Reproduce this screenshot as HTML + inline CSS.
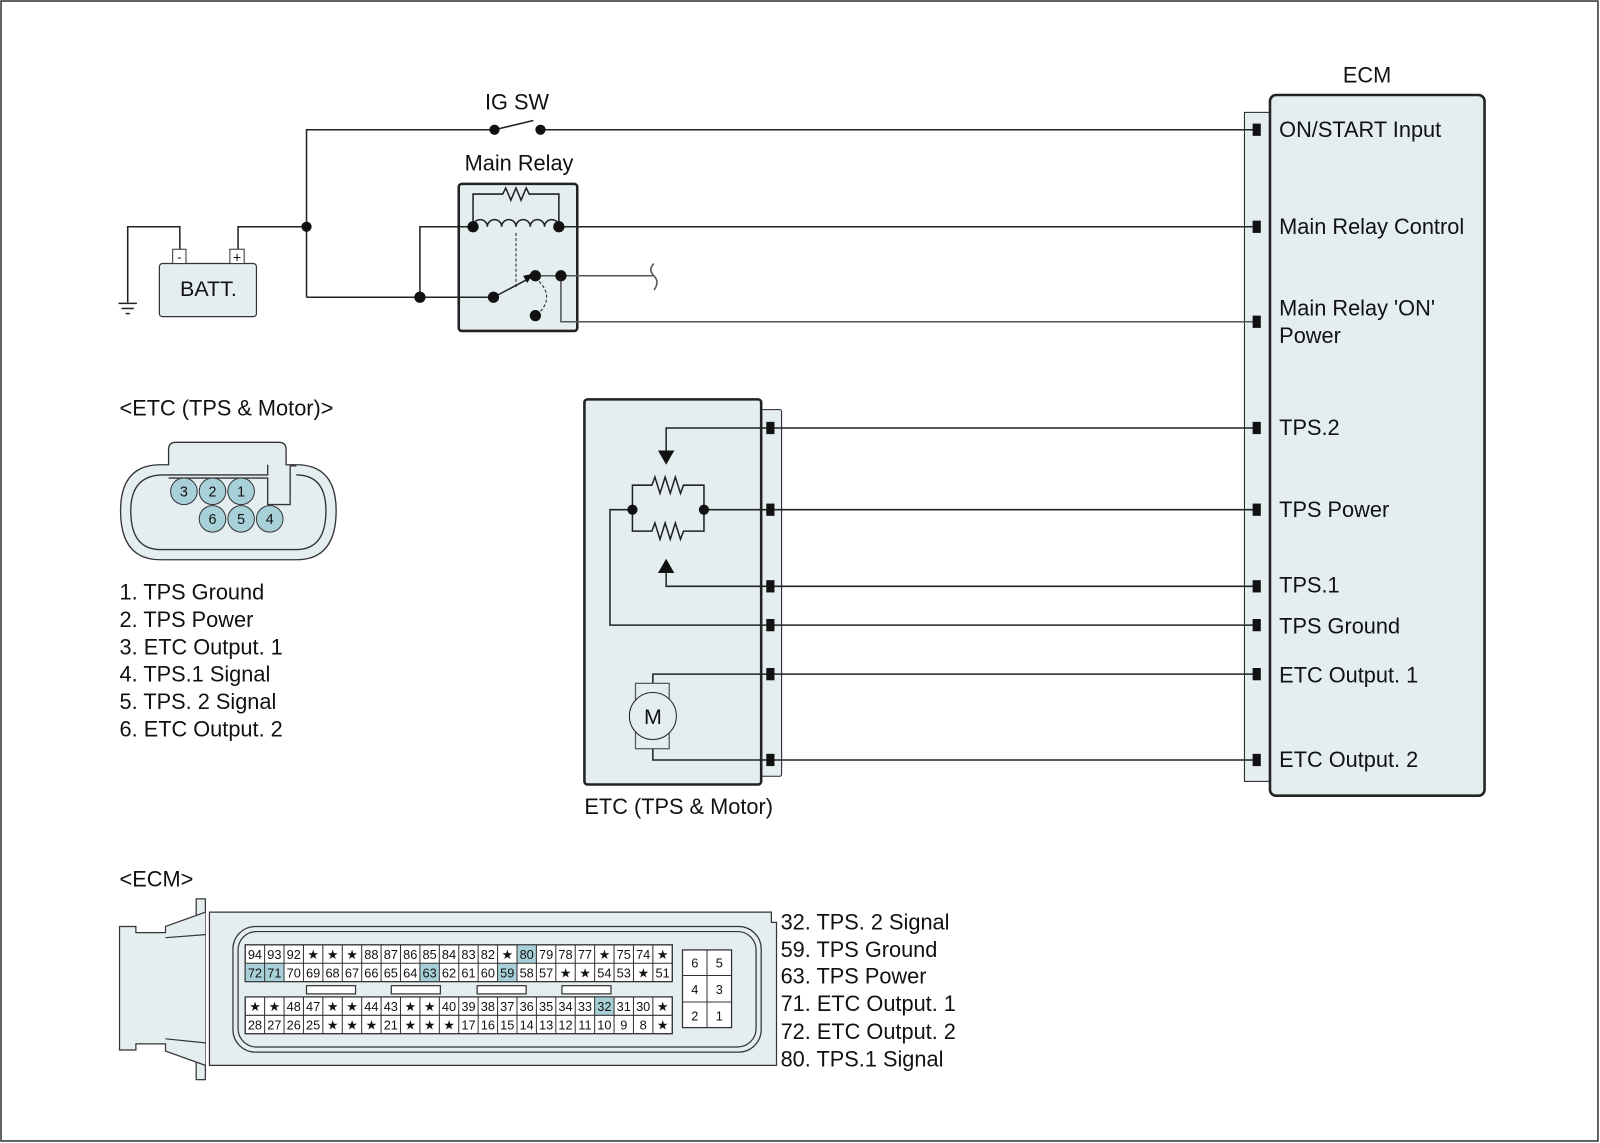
<!DOCTYPE html>
<html><head><meta charset="utf-8"><style>
html,body{margin:0;padding:0;background:#fff}
svg{display:block}
text{font-family:"Liberation Sans",sans-serif;fill:#111}
</style></head><body>
<svg width="1600" height="1143" viewBox="0 0 1566 1119" preserveAspectRatio="none" xmlns="http://www.w3.org/2000/svg">
<rect x="1" y="1" width="1563" height="1116" fill="#fff" stroke="#333" stroke-width="1.5"/>
<g stroke="#222" stroke-width="1.5" fill="none">
<rect x="1218" y="110" width="25" height="655" fill="#e4eef0" stroke-width="1"/>
<rect x="1243" y="93" width="210" height="686" rx="6" fill="#e4eef0" stroke-width="2.5"/>
<polyline points="300,291 300,127 484,127"/>
<line x1="484" y1="127" x2="522" y2="118"/>
<line x1="529" y1="127" x2="1227" y2="127"/>
<polyline points="233,244 233,222 300,222"/>
<polyline points="176,244 176,222 125,222 125,296"/>
<line x1="116" y1="297" x2="134" y2="297"/><line x1="119" y1="302" x2="131" y2="302"/><line x1="123" y1="307" x2="127" y2="307"/>
<rect x="449" y="180" width="116" height="144" rx="3" fill="#e4eef0" stroke-width="2.5"/>
<polyline points="300,291 483,291"/>
<polyline points="411,291 411,222 463,222"/>
<polyline points="463,222 463,190 492,190 495,184 500,196 505,184 510,196 515,184 518,190 547,190 547,222"/>
<path d="M463,222 a7,7 0 0 1 14,0 a7,7 0 0 1 14,0 a7,7 0 0 1 14,0 a7,7 0 0 1 14,0 a7,7 0 0 1 14,0 a7,7 0 0 1 14,0"/>
<line x1="547" y1="222" x2="1227" y2="222"/>
<line x1="505" y1="228" x2="505" y2="282" stroke-dasharray="3,2" stroke-width="1"/>
<line x1="483" y1="291" x2="519" y2="272"/>
<path d="M524,272 Q545,290 526,308" stroke-dasharray="3,2" stroke-width="1"/>
<line x1="524" y1="270" x2="640" y2="270" stroke="#555"/>
<path d="M640,258 q-6,6 0,12 q6,6 0,14" stroke="#555"/>
<polyline points="549,270 549,315 1227,315" stroke="#555"/>
<rect x="745" y="401" width="20" height="359" rx="2" fill="#e4eef0" stroke-width="1"/>
<rect x="572" y="391" width="173" height="377" rx="3" fill="#e4eef0" stroke-width="2.5"/>
<polyline points="1227,419 652,419 652,445"/>
<line x1="751" y1="499" x2="1227" y2="499"/>
<line x1="751" y1="574" x2="1227" y2="574"/>
<line x1="751" y1="612" x2="1227" y2="612"/>
<line x1="751" y1="660" x2="1227" y2="660"/>
<line x1="751" y1="744" x2="1227" y2="744"/>
<polyline points="619,499 619,475 638,475 641,467 646,483 651,467 656,483 661,467 666,483 669,475 689,475 689,499"/>
<polyline points="619,499 619,520 638,520 641,512 646,528 651,512 656,528 661,512 666,528 669,520 689,520 689,499"/>
<line x1="689" y1="499" x2="751" y2="499"/>
<polyline points="619,499 597,499 597,612 751,612"/>
<polyline points="751,574 652,574 652,558"/>
<polyline points="751,660 639,660 639,669"/>
<rect x="622" y="669" width="33" height="64" stroke="#555" stroke-width="1.2"/>
<circle cx="639" cy="701" r="23" fill="#e4eef0" stroke-width="1"/>
<polyline points="639,733 639,744 751,744"/>
</g>
<polygon points="644,441 660,441 652,455" fill="#111"/>
<polygon points="644,561 660,561 652,547" fill="#111"/>
<text x="639" y="709" font-size="21" text-anchor="middle">M</text>
<g fill="#111">
<circle cx="300" cy="222" r="5"/><circle cx="484" cy="127" r="5"/><circle cx="529" cy="127" r="5"/>
<circle cx="411" cy="291" r="5.5"/><circle cx="463" cy="222" r="5.5"/><circle cx="547" cy="222" r="5.5"/>
<circle cx="483" cy="291" r="5.5"/><circle cx="524" cy="270" r="5.5"/><circle cx="549" cy="270" r="5.5"/><circle cx="524" cy="309" r="5.5"/>
<polygon points="522,268 512,270 516,277"/>
<circle cx="619" cy="499" r="5"/><circle cx="689" cy="499" r="5"/>
<rect x="1226" y="121" width="8" height="12"/><rect x="1226" y="216" width="8" height="12"/><rect x="1226" y="309" width="8" height="12"/>
<rect x="1226" y="413" width="8" height="12"/><rect x="1226" y="493" width="8" height="12"/><rect x="1226" y="568" width="8" height="12"/>
<rect x="1226" y="606" width="8" height="12"/><rect x="1226" y="654" width="8" height="12"/><rect x="1226" y="738" width="8" height="12"/>
<rect x="750" y="413" width="8" height="12"/><rect x="750" y="493" width="8" height="12"/><rect x="750" y="568" width="8" height="12"/>
<rect x="750" y="606" width="8" height="12"/><rect x="750" y="654" width="8" height="12"/><rect x="750" y="738" width="8" height="12"/>
</g>
<rect x="156" y="258" width="95" height="52" rx="3" fill="#e4eef0" stroke="#333" stroke-width="1.2"/>
<rect x="169" y="244" width="13" height="14" fill="#fff" stroke="#333"/>
<rect x="225" y="244" width="14" height="14" fill="#fff" stroke="#333"/>
<text x="175.5" y="256" font-size="13" text-anchor="middle">-</text>
<text x="232" y="257" font-size="14" text-anchor="middle">+</text>
<text x="204" y="290" font-size="21" text-anchor="middle">BATT.</text>
<g font-size="21.3">
<text x="506" y="107" text-anchor="middle">IG SW</text>
<text x="508" y="167" text-anchor="middle">Main Relay</text>
<text x="1338" y="81" text-anchor="middle">ECM</text>
<text x="1252" y="134">ON/START Input</text>
<text x="1252" y="229">Main Relay Control</text>
<text x="1252" y="309">Main Relay 'ON'</text>
<text x="1252" y="336">Power</text>
<text x="1252" y="426">TPS.2</text>
<text x="1252" y="506">TPS Power</text>
<text x="1252" y="580">TPS.1</text>
<text x="1252" y="620">TPS Ground</text>
<text x="1252" y="668">ETC Output. 1</text>
<text x="1252" y="751">ETC Output. 2</text>
<text x="572" y="797">ETC (TPS &amp; Motor)</text>
<text x="117" y="407">&lt;ETC (TPS &amp; Motor)&gt;</text>
<text x="117" y="587">1. TPS Ground</text>
<text x="117" y="614">2. TPS Power</text>
<text x="117" y="641">3. ETC Output. 1</text>
<text x="117" y="667">4. TPS.1 Signal</text>
<text x="117" y="694">5. TPS. 2 Signal</text>
<text x="117" y="721">6. ETC Output. 2</text>
<text x="117" y="868">&lt;ECM&gt;</text>
<text x="764" y="910">32. TPS. 2 Signal</text>
<text x="764" y="937">59. TPS Ground</text>
<text x="764" y="963">63. TPS Power</text>
<text x="764" y="990">71. ETC Output. 1</text>
<text x="764" y="1017">72. ETC Output. 2</text>
<text x="764" y="1044">80. TPS.1 Signal</text>
</g>
<g stroke="#333" stroke-width="1.3" fill="#e4eef0">
<path d="M165,455 L165,440 Q165,433 172,433 L273,433 Q280,433 280,440 L280,455 L290,455 Q329,455 329,500 Q329,548 290,548 L157,548 Q118,548 118,500 Q118,455 157,455 Z"/>
<path d="M128,500 Q128,465 160,465 L262,465 L262,455 M290,465 Q319,465 319,500 Q319,538 290,538 L157,538 Q128,538 128,500" fill="none"/>
<path d="M165,468 L262,468 L262,494 L284,494 L284,456 L290,456" fill="none"/>
</g>
<g fill="#a8d0d8" stroke="#333" stroke-width="1">
<circle cx="180" cy="481" r="13"/><circle cx="208" cy="481" r="13"/><circle cx="236" cy="481" r="13"/>
<circle cx="208" cy="508" r="13"/><circle cx="236" cy="508" r="13"/><circle cx="264" cy="508" r="13"/>
</g>
<g font-size="14" text-anchor="middle">
<text x="180" y="486">3</text><text x="208" y="486">2</text><text x="236" y="486">1</text>
<text x="208" y="513">6</text><text x="236" y="513">5</text><text x="264" y="513">4</text>
</g>
<g stroke="#333" stroke-width="1.2" fill="#e4eef0">
<rect x="192" y="880" width="9" height="177"/>
<path d="M201,893 L162,907 L162,913 L133,913 L133,907 L117,907 L117,1028 L133,1028 L133,1022 L162,1022 L162,1029 L201,1043"/>
<path d="M162,918 L201,915 M162,1017 L201,1021" fill="none"/>
<path d="M205,893 L755,893 L755,903 L760,903 L760,1043 L205,1043 Z"/>
<rect x="228" y="907" width="517" height="123" rx="22" fill="none"/>
<rect x="233" y="912" width="507" height="113" rx="18" fill="none"/>
<rect x="240" y="925" width="418" height="36" fill="#fff"/>
<rect x="240" y="976" width="418" height="36" fill="#fff"/>
<rect x="668" y="930" width="48" height="76" fill="#fff"/>
<rect x="300" y="965" width="48" height="8" fill="#fff"/><rect x="383" y="965" width="48" height="8" fill="#fff"/>
<rect x="467" y="965" width="48" height="8" fill="#fff"/><rect x="550" y="965" width="48" height="8" fill="#fff"/>
</g>
<g fill="#a8d0d8">
<rect x="506" y="925" width="19" height="18"/>
<rect x="240" y="943" width="38" height="18"/>
<rect x="411" y="943" width="19" height="18"/>
<rect x="487" y="943" width="19" height="18"/>
<rect x="582" y="976" width="19" height="18"/>
</g>
<g stroke="#333" stroke-width="1" fill="none">
<path d="M240,943 H658 M240,994 H658 M692,930 V1006 M668,955 H716 M668,981 H716"/>
<path d="M259,925V961 M278,925V961 M297,925V961 M316,925V961 M335,925V961 M354,925V961 M373,925V961 M392,925V961 M411,925V961 M430,925V961 M449,925V961 M468,925V961 M487,925V961 M506,925V961 M525,925V961 M544,925V961 M563,925V961 M582,925V961 M601,925V961 M620,925V961 M639,925V961"/>
<path d="M259,976V1012 M278,976V1012 M297,976V1012 M316,976V1012 M335,976V1012 M354,976V1012 M373,976V1012 M392,976V1012 M411,976V1012 M430,976V1012 M449,976V1012 M468,976V1012 M487,976V1012 M506,976V1012 M525,976V1012 M544,976V1012 M563,976V1012 M582,976V1012 M601,976V1012 M620,976V1012 M639,976V1012"/>
<rect x="240" y="925" width="418" height="36"/><rect x="240" y="976" width="418" height="36"/><rect x="668" y="930" width="48" height="76"/>
</g>
<g font-size="12.5" text-anchor="middle">
<text x="249.5" y="939">94</text><text x="268.5" y="939">93</text><text x="287.5" y="939">92</text><text x="306.5" y="939">★</text><text x="325.5" y="939">★</text><text x="344.5" y="939">★</text><text x="363.5" y="939">88</text><text x="382.5" y="939">87</text><text x="401.5" y="939">86</text><text x="420.5" y="939">85</text><text x="439.5" y="939">84</text><text x="458.5" y="939">83</text><text x="477.5" y="939">82</text><text x="496.5" y="939">★</text><text x="515.5" y="939">80</text><text x="534.5" y="939">79</text><text x="553.5" y="939">78</text><text x="572.5" y="939">77</text><text x="591.5" y="939">★</text><text x="610.5" y="939">75</text><text x="629.5" y="939">74</text><text x="648.5" y="939">★</text>
<text x="249.5" y="957">72</text><text x="268.5" y="957">71</text><text x="287.5" y="957">70</text><text x="306.5" y="957">69</text><text x="325.5" y="957">68</text><text x="344.5" y="957">67</text><text x="363.5" y="957">66</text><text x="382.5" y="957">65</text><text x="401.5" y="957">64</text><text x="420.5" y="957">63</text><text x="439.5" y="957">62</text><text x="458.5" y="957">61</text><text x="477.5" y="957">60</text><text x="496.5" y="957">59</text><text x="515.5" y="957">58</text><text x="534.5" y="957">57</text><text x="553.5" y="957">★</text><text x="572.5" y="957">★</text><text x="591.5" y="957">54</text><text x="610.5" y="957">53</text><text x="629.5" y="957">★</text><text x="648.5" y="957">51</text>
<text x="249.5" y="990">★</text><text x="268.5" y="990">★</text><text x="287.5" y="990">48</text><text x="306.5" y="990">47</text><text x="325.5" y="990">★</text><text x="344.5" y="990">★</text><text x="363.5" y="990">44</text><text x="382.5" y="990">43</text><text x="401.5" y="990">★</text><text x="420.5" y="990">★</text><text x="439.5" y="990">40</text><text x="458.5" y="990">39</text><text x="477.5" y="990">38</text><text x="496.5" y="990">37</text><text x="515.5" y="990">36</text><text x="534.5" y="990">35</text><text x="553.5" y="990">34</text><text x="572.5" y="990">33</text><text x="591.5" y="990">32</text><text x="610.5" y="990">31</text><text x="629.5" y="990">30</text><text x="648.5" y="990">★</text>
<text x="249.5" y="1008">28</text><text x="268.5" y="1008">27</text><text x="287.5" y="1008">26</text><text x="306.5" y="1008">25</text><text x="325.5" y="1008">★</text><text x="344.5" y="1008">★</text><text x="363.5" y="1008">★</text><text x="382.5" y="1008">21</text><text x="401.5" y="1008">★</text><text x="420.5" y="1008">★</text><text x="439.5" y="1008">★</text><text x="458.5" y="1008">17</text><text x="477.5" y="1008">16</text><text x="496.5" y="1008">15</text><text x="515.5" y="1008">14</text><text x="534.5" y="1008">13</text><text x="553.5" y="1008">12</text><text x="572.5" y="1008">11</text><text x="591.5" y="1008">10</text><text x="610.5" y="1008">9</text><text x="629.5" y="1008">8</text><text x="648.5" y="1008">★</text>
<text x="680" y="947">6</text><text x="704" y="947">5</text><text x="680" y="973">4</text><text x="704" y="973">3</text><text x="680" y="999">2</text><text x="704" y="999">1</text>
</g>
</svg>
</body></html>
